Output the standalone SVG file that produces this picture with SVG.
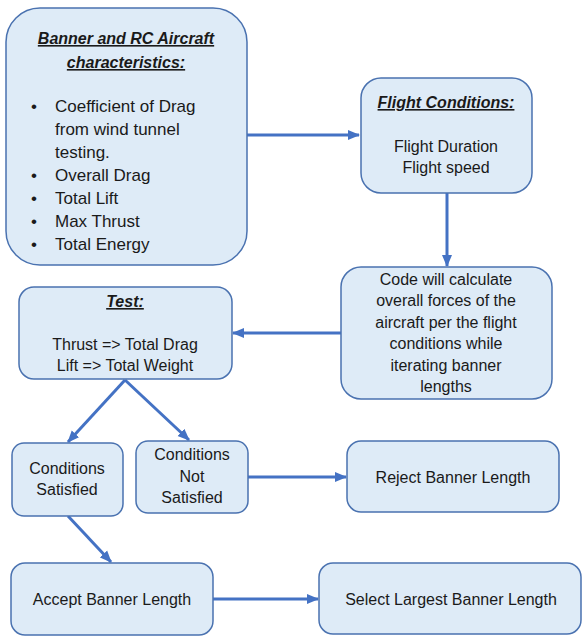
<svg xmlns="http://www.w3.org/2000/svg" width="583" height="636" viewBox="0 0 583 636">
<defs>
<marker id="ah" markerUnits="userSpaceOnUse" markerWidth="12" markerHeight="12" viewBox="0 0 12 12" refX="11" refY="6" orient="auto">
<path d="M0,1 L12,6 L0,11 Z" fill="#4472C4"/>
</marker>
<style>
.box{fill:#DEEBF7;stroke:#4A72B0;stroke-width:1.5}
.t{font-family:"Liberation Sans",Arial,sans-serif;font-size:16px;fill:#1a1a1a}
.c{text-anchor:middle}
.h{font-weight:bold;font-style:italic;text-decoration:underline}
.b{font-size:17px}
.conn{stroke:#4472C4;stroke-width:3;fill:none;marker-end:url(#ah)}
</style>
</defs>
<rect width="583" height="636" fill="#ffffff"/>
<g id="connectors">
<line class="conn" x1="247" y1="135" x2="359" y2="135"/>
<line class="conn" x1="447" y1="193" x2="447" y2="266"/>
<line class="conn" x1="341" y1="333" x2="233" y2="333"/>
<line class="conn" x1="125" y1="380" x2="68" y2="442"/>
<line class="conn" x1="125" y1="380" x2="189" y2="440"/>
<line class="conn" x1="248" y1="477" x2="346" y2="477"/>
<line class="conn" x1="68" y1="516" x2="111" y2="562"/>
<line class="conn" x1="213" y1="599" x2="318" y2="599"/>
</g>
<g id="node-characteristics">
<rect class="box" x="6" y="8" width="241" height="257" rx="34"/>
<text class="t c h" x="126" y="44" font-size="16.5">Banner and RC Aircraft</text>
<text class="t c h" x="126" y="68" font-size="16.5">characteristics:</text>
<g class="t b">
<text x="31" y="112">•</text><text x="55" y="112">Coefficient of Drag</text>
<text x="55" y="135">from wind tunnel</text>
<text x="55" y="158">testing.</text>
<text x="31" y="181">•</text><text x="55" y="181">Overall Drag</text>
<text x="31" y="204">•</text><text x="55" y="204">Total Lift</text>
<text x="31" y="227">•</text><text x="55" y="227">Max Thrust</text>
<text x="31" y="250">•</text><text x="55" y="250">Total Energy</text>
</g>
</g>
<g id="node-flight">
<rect class="box" x="361" y="78" width="171" height="115" rx="20"/>
<text class="t c h" x="446" y="108">Flight Conditions:</text>
<text class="t c" x="446" y="152">Flight Duration</text>
<text class="t c" x="446" y="173">Flight speed</text>
</g>
<g id="node-code">
<rect class="box" x="341" y="267" width="211" height="132" rx="20"/>
<text class="t c" x="446" y="285">Code will calculate</text>
<text class="t c" x="446" y="306">overall forces of the</text>
<text class="t c" x="446" y="328">aircraft per the flight</text>
<text class="t c" x="446" y="349">conditions while</text>
<text class="t c" x="446" y="371">iterating banner</text>
<text class="t c" x="446" y="392">lengths</text>
</g>
<g id="node-test">
<rect class="box" x="19" y="287" width="213" height="92" rx="15"/>
<text class="t c h" x="125" y="307">Test:</text>
<text class="t c" x="125" y="350">Thrust =&gt; Total Drag</text>
<text class="t c" x="125" y="371">Lift =&gt; Total Weight</text>
</g>
<g id="node-satisfied">
<rect class="box" x="12" y="443" width="111" height="73" rx="12"/>
<text class="t c" x="67" y="474">Conditions</text>
<text class="t c" x="67" y="495">Satisfied</text>
</g>
<g id="node-not-satisfied">
<rect class="box" x="136" y="441" width="112" height="72" rx="12"/>
<text class="t c" x="192" y="460">Conditions</text>
<text class="t c" x="192" y="482">Not</text>
<text class="t c" x="192" y="503">Satisfied</text>
</g>
<g id="node-reject">
<rect class="box" x="347" y="441" width="212" height="71" rx="14"/>
<text class="t c" x="453" y="483">Reject Banner Length</text>
</g>
<g id="node-accept">
<rect class="box" x="11" y="563" width="202" height="72" rx="14"/>
<text class="t c" x="112" y="605">Accept Banner Length</text>
</g>
<g id="node-select">
<rect class="box" x="319" y="563" width="262" height="71" rx="14"/>
<text class="t c" x="451" y="605">Select Largest Banner Length</text>
</g>
</svg>
